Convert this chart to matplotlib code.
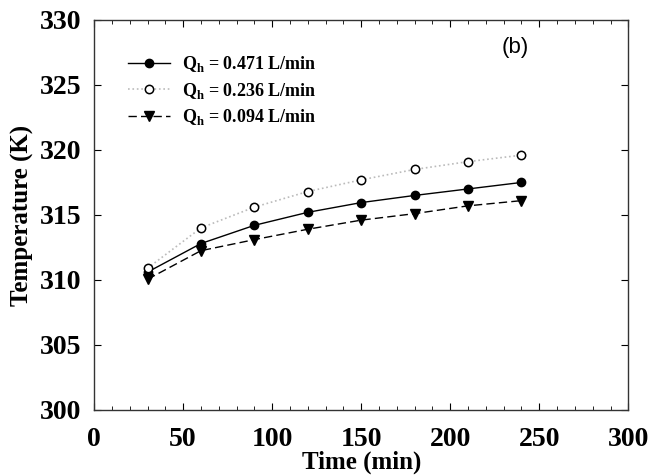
import matplotlib
matplotlib.use("Agg")
import matplotlib.pyplot as plt
from matplotlib.ticker import MultipleLocator

plt.rcParams['font.family'] = 'Liberation Serif'
plt.rcParams['font.weight'] = 'bold'
plt.rcParams['mathtext.fontset'] = 'custom'
plt.rcParams['mathtext.rm'] = 'Liberation Serif:bold'
plt.rcParams['mathtext.bf'] = 'Liberation Serif:bold'

time = [30, 60, 90, 120, 150, 180, 210, 240]
temp_471 = [310.6, 312.8, 314.2, 315.2, 315.95, 316.5, 317.0, 317.5]
temp_236 = [310.9, 314.0, 315.6, 316.8, 317.7, 318.5, 319.1, 319.6]
temp_094 = [310.05, 312.25, 313.1, 313.9, 314.6, 315.1, 315.7, 316.1]

fig = plt.figure(figsize=(6.72, 4.75), dpi=100)
ax = fig.add_axes([0.140, 0.137, 0.795, 0.821])

ax.plot(time, temp_471, '-', color='black', lw=1, marker='o', ms=6,
        mfc='black', mec='black', label=r'Q$_\mathbf{h}$ = 0.471 L/min')
ax.plot(time, temp_236, ':', color='#bbbbbb', lw=1.2, marker='o', ms=6,
        mfc='white', mec='black', mew=1.1, label=r'Q$_\mathbf{h}$ = 0.236 L/min')
ax.plot(time, temp_094, '--', color='black', lw=1, dashes=(6, 3), marker='v', ms=7,
        mfc='black', mec='black', label=r'Q$_\mathbf{h}$ = 0.094 L/min')

ax.set_xlim(0, 300)
ax.set_ylim(300, 330)
ax.xaxis.set_major_locator(MultipleLocator(50))
ax.xaxis.set_minor_locator(MultipleLocator(10))
ax.yaxis.set_major_locator(MultipleLocator(5))
ax.tick_params(which='both', direction='in', top=True, right=True, labelsize=20)
ax.tick_params(axis='x', pad=12)
ax.tick_params(axis='y', pad=9)
ax.tick_params(which='major', length=5)
ax.tick_params(which='minor', length=3)
for s in ax.spines.values():
    s.set_color('#333333')
    s.set_linewidth(1)

ax.set_xlabel('Time (min)', fontsize=18, fontweight='bold', labelpad=-1)
ax.set_ylabel('Temperature (K)', fontsize=18, fontweight='bold', labelpad=4)

ax.text(236.5, 327.85, '(b)', fontsize=16, family='Liberation Sans', fontweight='normal',
        ha='center', va='center')

leg = ax.legend(loc='upper left', frameon=False, fontsize=13, handlelength=2.3,
                handletextpad=0.7, borderpad=0, labelspacing=0.35,
                bbox_to_anchor=(0.047, 0.935))

fig.savefig('out.png', dpi=100)
